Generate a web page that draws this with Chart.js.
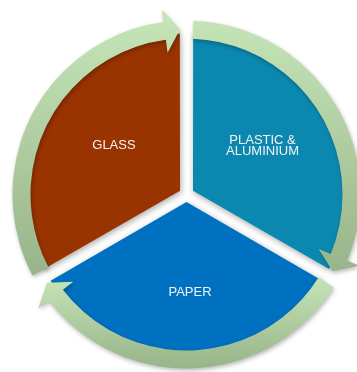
<!DOCTYPE html>
<html>
<head>
<meta charset="utf-8">
<script src="https://cdn.jsdelivr.net/npm/chart.js@4"></script>
<style>
  html, body { margin: 0; padding: 0; background: #fff; }
  #wrap { width: 357px; height: 372px; }
</style>
</head>
<body>
<div id="wrap"><canvas id="cycle" width="357" height="372"></canvas></div>
<script>
const categories = ["PLASTIC & ALUMINIUM", "PAPER", "GLASS"];
const labelLines = [["PLASTIC &", "ALUMINIUM"], ["PAPER"], ["GLASS"]];
const shares = [1, 1, 1];

const sliceColors = ["#0B88B0", "#0070C0", "#993300"];
const ringLight = "#C4E4B6";
const ringDark = "#98B48A";

const deg = Math.PI / 180;

// soft drop shadow under the pie slices (dataset 1)
const sliceShadow = {
    id: "sliceShadow",
    beforeDatasetDraw(chart, args) {
        if (args.index !== 1) return;
        const ctx = chart.ctx;
        ctx.save();
        ctx.shadowColor = "rgba(0,0,0,0.35)";
        ctx.shadowBlur = 6;
        ctx.shadowOffsetX = 1;
        ctx.shadowOffsetY = 2;
    },
    afterDatasetDraw(chart, args) {
        if (args.index !== 1) return;
        chart.ctx.restore();
    }
};

// green arrows round the pie, one per arc of the outer ring (dataset 0)
const arrowRing = {
    id: "arrowRing",
    afterDatasetsDraw(chart) {
        const ctx = chart.ctx;
        chart.getDatasetMeta(0).data.forEach(arc => {
            const { x, y, startAngle, endAngle, innerRadius, outerRadius } = arc;
            const gap = 2.3 * deg, head = 5.3 * deg, wing = 13;
            const a0 = startAngle + gap;
            const tip = endAngle - gap;
            const a1 = tip - head;
            const mid = (innerRadius + outerRadius) / 2;
            const pt = (r, a) => [x + r * Math.cos(a), y + r * Math.sin(a)];

            // each arrow gets its own top-to-bottom gradient
            let top = Infinity, bottom = -Infinity;
            for (let a = a0; a <= tip; a += 0.01) {
                [outerRadius, innerRadius].forEach(r => {
                    const py = pt(r, a)[1];
                    top = Math.min(top, py);
                    bottom = Math.max(bottom, py);
                });
            }
            const grad = ctx.createLinearGradient(0, top, 0, bottom);
            grad.addColorStop(0, ringLight);
            grad.addColorStop(1, ringDark);

            ctx.save();
            ctx.shadowColor = "rgba(0,0,0,0.28)";
            ctx.shadowBlur = 4;
            ctx.shadowOffsetX = 1;
            ctx.shadowOffsetY = 2;
            ctx.beginPath();
            ctx.arc(x, y, outerRadius, a0, a1);
            ctx.lineTo(...pt(outerRadius + wing, a1));
            ctx.lineTo(...pt(mid, tip));
            ctx.lineTo(...pt(innerRadius - wing, a1));
            ctx.lineTo(...pt(innerRadius, a1));
            ctx.arc(x, y, innerRadius, a1, a0, true);
            ctx.closePath();
            ctx.fillStyle = grad;
            ctx.fill();
            ctx.restore();
        });
    }
};

// white text in each slice
const sliceLabels = {
    id: "sliceLabels",
    afterDraw(chart, args, opts) {
        const ctx = chart.ctx;
        chart.getDatasetMeta(1).data.forEach((arc, i) => {
            const half = (arc.startAngle + arc.endAngle) / 2;
            const r = (arc.options.offset || 0) / 4 + opts.distance;
            const [nx, ny] = opts.nudge[i];
            const cx = arc.x + Math.cos(half) * r + nx;
            const cy = arc.y + Math.sin(half) * r + ny;
            const lines = labelLines[i];
            ctx.save();
            ctx.font = opts.font;
            ctx.fillStyle = opts.color;
            ctx.textAlign = "center";
            ctx.textBaseline = "middle";
            lines.forEach((t, k) => {
                ctx.fillText(t, cx, cy + (k - (lines.length - 1) / 2) * opts.lineHeight);
            });
            ctx.restore();
        });
    }
};

new Chart(document.getElementById("cycle"), {
    type: "pie",
    data: {
        labels: categories,
        datasets: [
            { label: "cycle", data: shares, weight: 18, backgroundColor: "rgba(0,0,0,0)", borderWidth: 0 },
            { label: "share", data: shares, weight: 156, backgroundColor: sliceColors, borderWidth: 0, offset: 30 }
        ]
    },
    options: {
        responsive: false,
        animation: false,
        events: [],
        radius: 174,
        layout: { padding: { left: 16, top: 17, right: 0, bottom: 0 } },
        plugins: {
            legend: { display: false },
            tooltip: { enabled: false },
            sliceLabels: {
                distance: 78,
                nudge: [[2, -5.5], [3.5, 12.5], [1.5, -6.5]],
                font: '13px "Liberation Sans", Arial, sans-serif',
                color: "#F4F4F4",
                lineHeight: 11
            }
        }
    },
    plugins: [sliceShadow, arrowRing, sliceLabels]
});
</script>
</body>
</html>
